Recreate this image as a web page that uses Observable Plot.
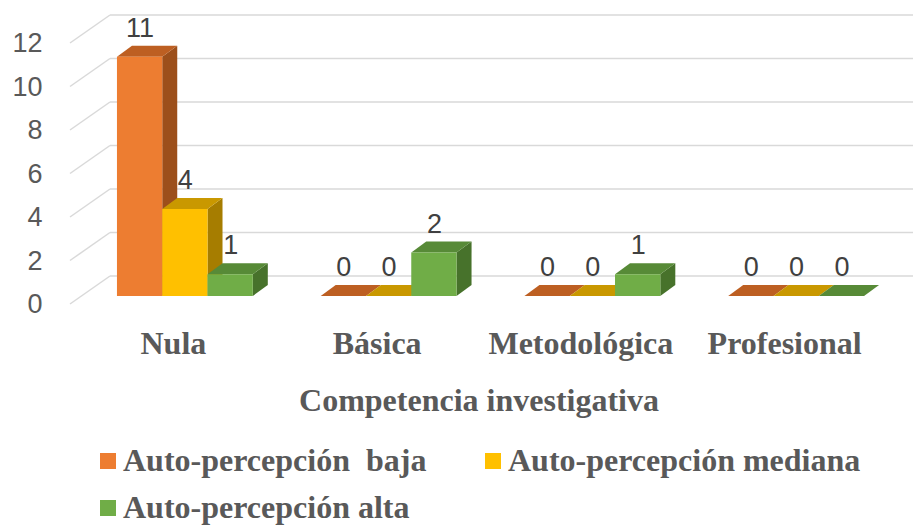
<!DOCTYPE html>
<html><head><meta charset="utf-8">
<script src="https://cdn.jsdelivr.net/npm/d3@7"></script>
<script src="https://cdn.jsdelivr.net/npm/@observablehq/plot@0.6"></script>
<style>
body{margin:0;background:#fff;}
#wrap{position:relative;width:913px;height:527px;overflow:hidden;background:#fff;}
#wrap svg{position:absolute;left:0;top:0;}
#legend{position:absolute;left:100px;top:437px;display:grid;grid-template-columns:385px auto;}
.item{display:flex;align-items:center;height:47px;line-height:47px;font-family:"Liberation Serif";font-weight:bold;font-size:32px;color:#595959;white-space:pre;}
.sw{width:16px;height:16px;margin-right:7px;flex:none;}
</style></head>
<body><div id="wrap"><div id="legend"></div></div>
<script>
const categories = ["Nula", "Básica", "Metodológica", "Profesional"];
const seriesNames = ["Auto-percepción  baja", "Auto-percepción mediana", "Auto-percepción alta"];
const baja = [11, 0, 0, 0];
const mediana = [4, 0, 0, 0];
const alta = [1, 2, 1, 0];
const yTicks = [0, 2, 4, 6, 8, 10, 12];
const axisTitle = "Competencia investigativa";

const frontColors = ["#ED7D31", "#FFC000", "#70AD47"];
const topColors = ["#BD5F22", "#C99800", "#578A37"];
const sideColors = ["#9C4F1B", "#A67D00", "#47722B"];

const seriesValues = [baja, mediana, alta];
const groupWidth = 2 / 3;
const barW = groupWidth / seriesValues.length;
const bars = [];
categories.forEach((c, i) => seriesValues.forEach((vals, j) => {
  bars.push({cat: c, i, j, value: vals[i], x1: i - groupWidth / 2 + j * barW, x2: i - groupWidth / 2 + (j + 1) * barW});
}));

// 3D depth offsets (pixels)
const FRONT = [-13, 8], BAR = [15, -11], BACK = [27, -20];
const gridColor = "#D9D9D9";

function depthMark(index, scales, values, dimensions) {
  const {x, y} = scales;
  const g = d3.create("svg:g");
  const x0 = x(-0.5);
  for (const t of yTicks) {
    const yy = y(t);
    g.append("line").attr("x1", x0 + FRONT[0]).attr("y1", yy + FRONT[1])
      .attr("x2", x0 + BACK[0]).attr("y2", yy + BACK[1])
      .attr("stroke", gridColor).attr("stroke-width", 1.5);
    g.append("line").attr("x1", x0 + BACK[0]).attr("y1", yy + BACK[1])
      .attr("x2", dimensions.width).attr("y2", yy + BACK[1])
      .attr("stroke", gridColor).attr("stroke-width", 1.5);
  }
  for (const b of bars) {
    const xa = x(b.x1), xb = x(b.x2), yt = y(b.value), y0 = y(0);
    const side = [[xb, yt], [xb + BAR[0], yt + BAR[1]], [xb + BAR[0], y0 + BAR[1]], [xb, y0]];
    const top = [[xa, yt], [xb, yt], [xb + BAR[0], yt + BAR[1]], [xa + BAR[0], yt + BAR[1]]];
    g.append("polygon").attr("points", side.map(p => p.join(",")).join(" ")).attr("fill", sideColors[b.j]);
    g.append("polygon").attr("points", top.map(p => p.join(",")).join(" ")).attr("fill", topColors[b.j]);
  }
  return g.node();
}

const serif = "Liberation Serif";
const sans = "Liberation Sans";

const chart = Plot.plot({
  width: 913,
  height: 440,
  marginLeft: 83,
  marginRight: 15,
  marginTop: 35,
  marginBottom: 144,
  x: {domain: [-0.5, 3.5], axis: null},
  y: {domain: [0, 12], axis: null},
  style: {background: "transparent", overflow: "visible"},
  marks: [
    depthMark,
    Plot.rect(bars, {x1: "x1", x2: "x2", y1: () => 0, y2: "value", fill: d => frontColors[d.j]}),
    Plot.text(bars, {x: d => (d.x1 + d.x2) / 2, y: "value", text: d => String(d.value), dy: -29,
      fontSize: 27, fontFamily: sans, fill: "#404040"}),
    Plot.text(yTicks, {x: () => -0.5, y: d => d, text: d => String(d), dx: -41, dy: 8, textAnchor: "end",
      fontSize: 27, fontFamily: sans, fill: "#595959"}),
    Plot.text(categories, {x: (d, i) => i, y: () => 0, text: d => d, dx: -12, dy: 47,
      fontSize: 32, fontFamily: serif, fontWeight: "bold", fill: "#595959"}),
    Plot.text([axisTitle], {x: () => 1.5, y: () => 0, text: d => d, dx: -12, dy: 104,
      fontSize: 32, fontFamily: serif, fontWeight: "bold", fill: "#595959"})
  ]
});
const wrap = document.getElementById("wrap");
wrap.insertBefore(chart, wrap.firstChild);

const legend = document.getElementById("legend");
seriesNames.forEach((name, j) => {
  const item = document.createElement("div");
  item.className = "item";
  const sw = document.createElement("span");
  sw.className = "sw";
  sw.style.background = frontColors[j];
  const tx = document.createElement("span");
  tx.textContent = name;
  item.appendChild(sw);
  item.appendChild(tx);
  legend.appendChild(item);
});
</script>
</body></html>
